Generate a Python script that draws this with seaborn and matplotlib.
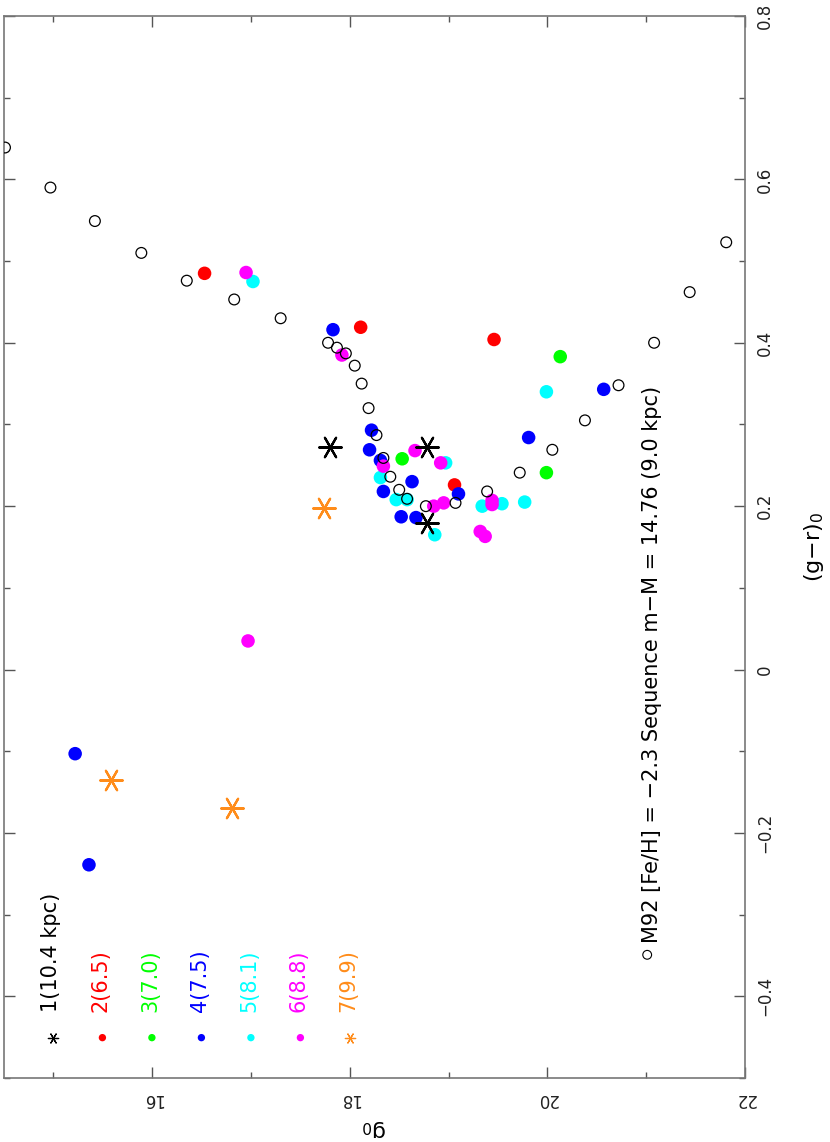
import matplotlib
matplotlib.use("Agg")
import matplotlib.pyplot as plt
import seaborn as sns
import pandas as pd
from matplotlib.ticker import MultipleLocator

# ---------------- data ----------------
m92_g0 = [14.51, 14.97, 15.42, 15.89, 16.35, 16.83, 17.30, 17.78, 17.87, 17.96, 18.05, 18.12,
          18.19, 18.27, 18.34, 18.41, 18.50, 18.58, 18.77, 19.07, 19.39, 19.72, 20.05, 20.38,
          20.72, 21.08, 21.44, 21.81]
m92_gr = [0.639, 0.590, 0.549, 0.510, 0.476, 0.453, 0.430, 0.400, 0.394, 0.387, 0.372, 0.350,
          0.320, 0.287, 0.259, 0.236, 0.220, 0.209, 0.200, 0.204, 0.218, 0.241, 0.269, 0.305,
          0.348, 0.400, 0.462, 0.523]

g1_g0 = [17.80, 18.78, 18.78]
g1_gr = [0.273, 0.273, 0.179]
g2_g0 = [16.53, 18.11, 19.06, 19.46]
g2_gr = [0.485, 0.419, 0.226, 0.404]
g3_g0 = [18.53, 20.13, 19.99]
g3_gr = [0.258, 0.383, 0.241]
g4_g0 = [17.83, 18.22, 18.20, 18.31, 18.63, 18.34, 19.10, 18.52, 18.67, 20.57, 19.81, 15.22, 15.36]
g4_gr = [0.416, 0.293, 0.269, 0.256, 0.230, 0.218, 0.215, 0.187, 0.186, 0.343, 0.284, -0.103, -0.239]
g5_g0 = [17.02, 18.97, 18.31, 18.47, 18.58, 18.86, 19.99, 19.34, 19.54, 19.77]
g5_gr = [0.475, 0.253, 0.235, 0.208, 0.208, 0.165, 0.340, 0.200, 0.203, 0.205]
g6_g0 = [16.95, 17.92, 18.66, 18.34, 18.92, 18.85, 18.95, 19.44, 19.44, 19.32, 19.37, 16.97]
g6_gr = [0.486, 0.385, 0.268, 0.249, 0.253, 0.200, 0.204, 0.207, 0.202, 0.169, 0.163, 0.035]
g7_g0 = [17.74, 15.58, 16.81]
g7_gr = [0.198, -0.135, -0.169]

group_labels = ["1(10.4 kpc)", "2(6.5)", "3(7.0)", "4(7.5)", "5(8.1)", "6(8.8)", "7(9.9)"]
m92_label = "M92 [Fe/H] = \u22122.3 Sequence m\u2212M = 14.76 (9.0 kpc)"

xtick_vals = [16, 18, 20, 22]
xtick_labels = ["16", "18", "20", "22"]
ytick_vals = [-0.4, -0.2, 0, 0.2, 0.4, 0.6, 0.8]
ytick_labels = ["\u22120.4", "\u22120.2", "0", "0.2", "0.4", "0.6", "0.8"]

# ---------------- styling ----------------
sns.set_theme(style="ticks")
plt.rcParams["font.family"] = ["DejaVu Sans"]

colors = ["black", "#ff0000", "#00ff00", "#0000ff", "#00ffff", "#ff00ff", "#ff8c1a"]
markers = ["ast", "o", "o", "o", "o", "o", "ast"]
asterisk = (6, 2, 90)

groups = [(g1_g0, g1_gr), (g2_g0, g2_gr), (g3_g0, g3_gr), (g4_g0, g4_gr),
          (g5_g0, g5_gr), (g6_g0, g6_gr), (g7_g0, g7_gr)]

fig = plt.figure(figsize=(8.3, 11.42), dpi=100)
ax = fig.add_axes([4 / 830, 64 / 1142, 741 / 830, 1062 / 1142])

m92 = pd.DataFrame({"g0": m92_g0, "gr": m92_gr})
sns.scatterplot(data=m92, x="g0", y="gr", ax=ax, marker="o", s=60,
                facecolors="none", edgecolor="black", linewidth=0.9, zorder=3)

for i, (gx, gy) in enumerate(groups):
    df = pd.DataFrame({"g0": gx, "gr": gy})
    if markers[i] == "ast":
        sns.scatterplot(data=df, x="g0", y="gr", ax=ax, marker=asterisk, s=260,
                        color=colors[i], linewidth=1.6, zorder=4)
    else:
        sns.scatterplot(data=df, x="g0", y="gr", ax=ax, marker="o", s=95,
                        color=colors[i], edgecolor="none", linewidth=0, zorder=2)

ax.set_xlim(14.5, 22)
ax.set_ylim(-0.5, 0.8)

# ---------------- legend (in axes fraction) ----------------
FS = 15
x0, dx = 0.066, 0.0668
for i, lab in enumerate(group_labels):
    xx = x0 + i * dx
    if markers[i] == "ast":
        ax.scatter([xx], [0.038], transform=ax.transAxes, marker=asterisk, s=55,
                   color=colors[i], linewidth=0.9, zorder=5, clip_on=False)
    else:
        ax.scatter([xx], [0.038], transform=ax.transAxes, marker="o", s=28,
                   color=colors[i], edgecolor="none", zorder=5, clip_on=False)
    ax.text(xx - 0.002, 0.062, lab, transform=ax.transAxes, rotation=90,
            ha="center", va="bottom", color=colors[i], fontsize=FS)

ax.scatter([0.868], [0.116], transform=ax.transAxes, marker="o", s=40,
           facecolors="none", edgecolors="black", linewidth=0.8, zorder=5)
ax.text(0.874, 0.127, m92_label, transform=ax.transAxes, rotation=90,
        ha="center", va="bottom", color="black", fontsize=FS)

# ---------------- axes ----------------
ax.set_xticks(xtick_vals)
ax.set_xticklabels(xtick_labels)
ax.set_yticks(ytick_vals)
ax.set_yticklabels(ytick_labels)
ax.xaxis.set_minor_locator(MultipleLocator(1))
ax.yaxis.set_minor_locator(MultipleLocator(0.1))

ax.tick_params(axis="both", which="both", direction="in", top=True, bottom=True,
               left=True, right=True, colors="#555555", width=1.0)
ax.tick_params(axis="both", which="major", length=8)
ax.tick_params(axis="both", which="minor", length=4.5)
ax.tick_params(axis="y", labelleft=False, labelright=True, labelrotation=90, pad=8,
               labelsize=12, labelcolor="#222222")
ax.tick_params(axis="x", labelrotation=180, pad=9, labelsize=12, labelcolor="#222222")
for t in ax.get_yticklabels():
    t.set_va("center")

for sp in ax.spines.values():
    sp.set_color("#777777")
    sp.set_linewidth(1.2)

ax.yaxis.set_label_position("right")
ax.set_ylabel("(g\u2212r)$_0$", rotation=90, fontsize=16, labelpad=20, color="black")
ax.set_xlabel("g$_0$", rotation=180, fontsize=16, labelpad=7, color="black")

fig.savefig("out.png", dpi=100)
